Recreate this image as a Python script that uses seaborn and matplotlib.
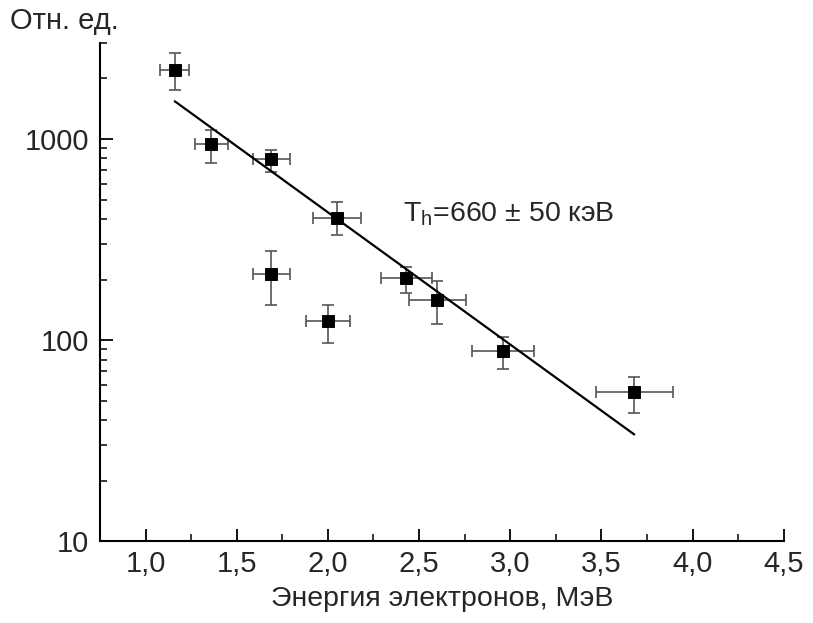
import numpy as np
import pandas as pd
import matplotlib
matplotlib.use("Agg")
import matplotlib.pyplot as plt
import matplotlib.ticker as mticker
import seaborn as sns

# measured points (energy, MeV ; intensity, arb. units)
energy = [1.16, 1.36, 1.69, 2.05, 1.69, 2.00, 2.43, 2.60, 2.96, 3.68]
energy_err = [0.08, 0.09, 0.10, 0.13, 0.10, 0.12, 0.14, 0.155, 0.17, 0.21]
counts = [2210, 941, 794, 407, 214, 124, 203, 159, 88, 55]
counts_err_lo = [460, 182, 108, 72, 64, 27, 32, 38, 16.5, 11.7]
counts_err_hi = [470, 164, 90, 77, 65, 26, 29, 38, 15.5, 10.7]

# exponential fit, drawn as a straight segment on the log axis
fit_energy = [1.16, 3.68]
fit_counts = [1540, 34]

x_ticks = [1.0, 1.5, 2.0, 2.5, 3.0, 3.5, 4.0, 4.5]
x_tick_labels = ["1,0", "1,5", "2,0", "2,5", "3,0", "3,5", "4,0", "4,5"]
y_ticks = [10, 100, 1000]
y_tick_labels = ["10", "100", "1000"]

sns.set_style("ticks")
plt.rcParams["font.family"] = ["Liberation Sans", "DejaVu Sans"]
plt.rcParams["mathtext.fontset"] = "custom"
plt.rcParams["mathtext.rm"] = "Liberation Sans"

df = pd.DataFrame({"energy": energy, "counts": counts})
fit_df = pd.DataFrame({"energy": fit_energy, "counts": fit_counts})

fig = plt.figure(figsize=(8.13, 6.23), dpi=100)
ax = fig.add_axes([0.123, 0.131, 0.841, 0.800])

ax.errorbar(energy, counts, xerr=energy_err,
            yerr=[counts_err_lo, counts_err_hi],
            fmt="none", ecolor="#555555", elinewidth=1.2,
            capsize=4, capthick=1.2, zorder=2)
sns.lineplot(data=fit_df, x="energy", y="counts", ax=ax,
             color="black", linewidth=1.6, zorder=3)
sns.scatterplot(data=df, x="energy", y="counts", ax=ax, marker="s",
                s=70, color="black", edgecolor="black", zorder=4)

ax.set_yscale("log")
ax.set_xlim(0.75, 4.5)
ax.set_ylim(10, 3000)

ax.set_xticks(x_ticks)
ax.set_xticklabels(x_tick_labels)
ax.xaxis.set_minor_locator(mticker.MultipleLocator(0.25))
ax.set_yticks(y_ticks)
ax.set_yticklabels(y_tick_labels)
ax.yaxis.set_minor_locator(mticker.LogLocator(base=10, subs=np.arange(2, 10)))
ax.yaxis.set_minor_formatter(mticker.NullFormatter())

ax.tick_params(axis="both", which="major", direction="in", length=9,
               width=1.3, labelsize=21, pad=6, color="black")
ax.tick_params(axis="both", which="minor", direction="in", length=5,
               width=1.1, color="black")
ax.tick_params(axis="y", which="major", pad=8)

for side in ["top", "right"]:
    ax.spines[side].set_visible(False)
for side in ["left", "bottom"]:
    ax.spines[side].set_linewidth(1.5)
    ax.spines[side].set_color("black")

ax.set_xlabel("Энергия электронов, МэВ", fontsize=20.5, labelpad=6)
ax.set_ylabel("")
fig.text(0.012, 0.966, "Отн. ед.", fontsize=21, ha="left", va="center")

ax.text(2.41, 425, r"T$_\mathregular{h}$=660 ± 50 кэВ", fontsize=20.5,
        ha="left", va="center")

fig.savefig("out.png", dpi=100)
